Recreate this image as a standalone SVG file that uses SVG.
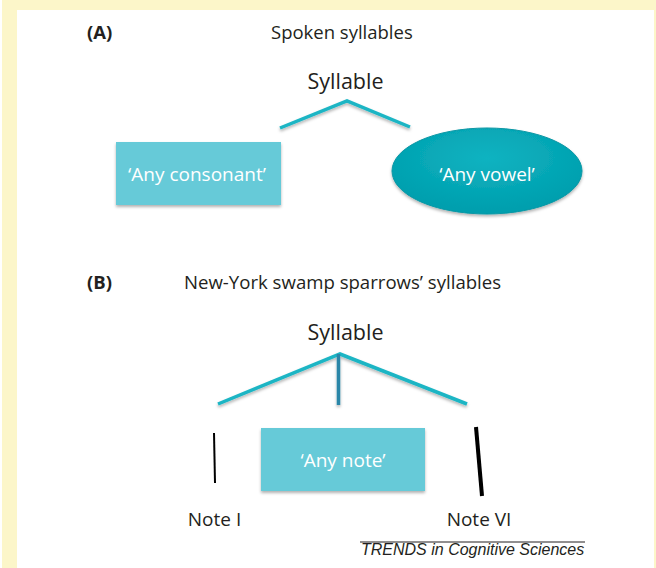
<svg xmlns="http://www.w3.org/2000/svg" width="656" height="568" viewBox="0 0 656 568">
<defs>
<style>
.t{font-family:"Open Sans","Noto Sans",sans-serif;fill:#231f20}
.w{font-family:"Open Sans","Noto Sans",sans-serif;fill:#ffffff;text-anchor:middle}
.br{stroke:#1bb5c4;stroke-width:3.5;fill:none;stroke-linecap:butt}
</style>
<radialGradient id="eg" cx="0.5" cy="0.35" r="0.6">
<stop offset="0" stop-color="#0fb3c1"/>
<stop offset="1" stop-color="#009fae"/>
</radialGradient>
<filter id="sh" x="-10%" y="-10%" width="120%" height="130%">
<feDropShadow dx="0" dy="2" stdDeviation="1.5" flood-color="#000" flood-opacity="0.3"/>
</filter>
</defs>
<rect x="0" y="0" width="656" height="568" fill="#ffffff"/>
<rect x="2" y="0" width="654" height="10" fill="#fcf6c9"/>
<rect x="2" y="0" width="15" height="568" fill="#fcf6c9"/>
<rect x="654" y="0" width="2" height="568" fill="#fcf6c9"/>

<text class="t" x="87" y="39" font-size="18.5" font-weight="bold">(A)</text>
<text class="t" x="271" y="39" font-size="18.5">Spoken syllables</text>
<text class="t" x="87" y="289" font-size="18.5" font-weight="bold">(B)</text>
<text class="t" x="184" y="289" font-size="18.6">New-York swamp sparrows’ syllables</text>

<g id="syllableA">
<text class="t" x="345.5" y="89" font-size="21.5" text-anchor="middle">Syllable</text>
</g>
<g id="consonant">
<rect x="116" y="142" width="165" height="63" fill="#66cad8" filter="url(#sh)"/>
<text class="w" x="197" y="181" font-size="19">‘Any consonant’</text>
</g>
<g id="vowel">
<ellipse cx="487" cy="171" rx="95" ry="43" fill="url(#eg)" stroke="#0a97a5" stroke-width="1" filter="url(#sh)"/>
<text class="w" x="487" y="181" font-size="19">‘Any vowel’</text>
</g>

<g id="syllableB">
<text class="t" x="345.5" y="340" font-size="21.5" text-anchor="middle">Syllable</text>
</g>
<g id="anynote">
<rect x="261" y="428" width="164" height="63" fill="#66cad8" filter="url(#sh)"/>
<text class="w" x="343" y="467" font-size="19">‘Any note’</text>
</g>
<g id="note1">
<line x1="214" y1="433" x2="215" y2="483" stroke="#000" stroke-width="2"/>
<text class="t" x="214.5" y="526" font-size="19" text-anchor="middle">Note I</text>
</g>
<g id="note6">
<line x1="476" y1="427" x2="482" y2="496" stroke="#000" stroke-width="4"/>
<text class="t" x="479" y="526" font-size="19" text-anchor="middle">Note VI</text>
</g>

<g id="connectors" filter="url(#sh)">
<polyline class="br" points="280,128 347,101 410,127"/>
<polyline class="br" points="218,404 340,354 467,404"/>
<line x1="338.5" y1="354" x2="338.5" y2="405" stroke="#2a86a8" stroke-width="3.5"/>
</g>

<g id="credit">
<line x1="360" y1="542" x2="585" y2="542" stroke="#231f20" stroke-width="1"/>
<text x="361" y="555" font-family="'Liberation Sans',Arial,sans-serif" font-style="italic" font-size="16" fill="#231f20">TRENDS in Cognitive Sciences</text>
</g>
</svg>
